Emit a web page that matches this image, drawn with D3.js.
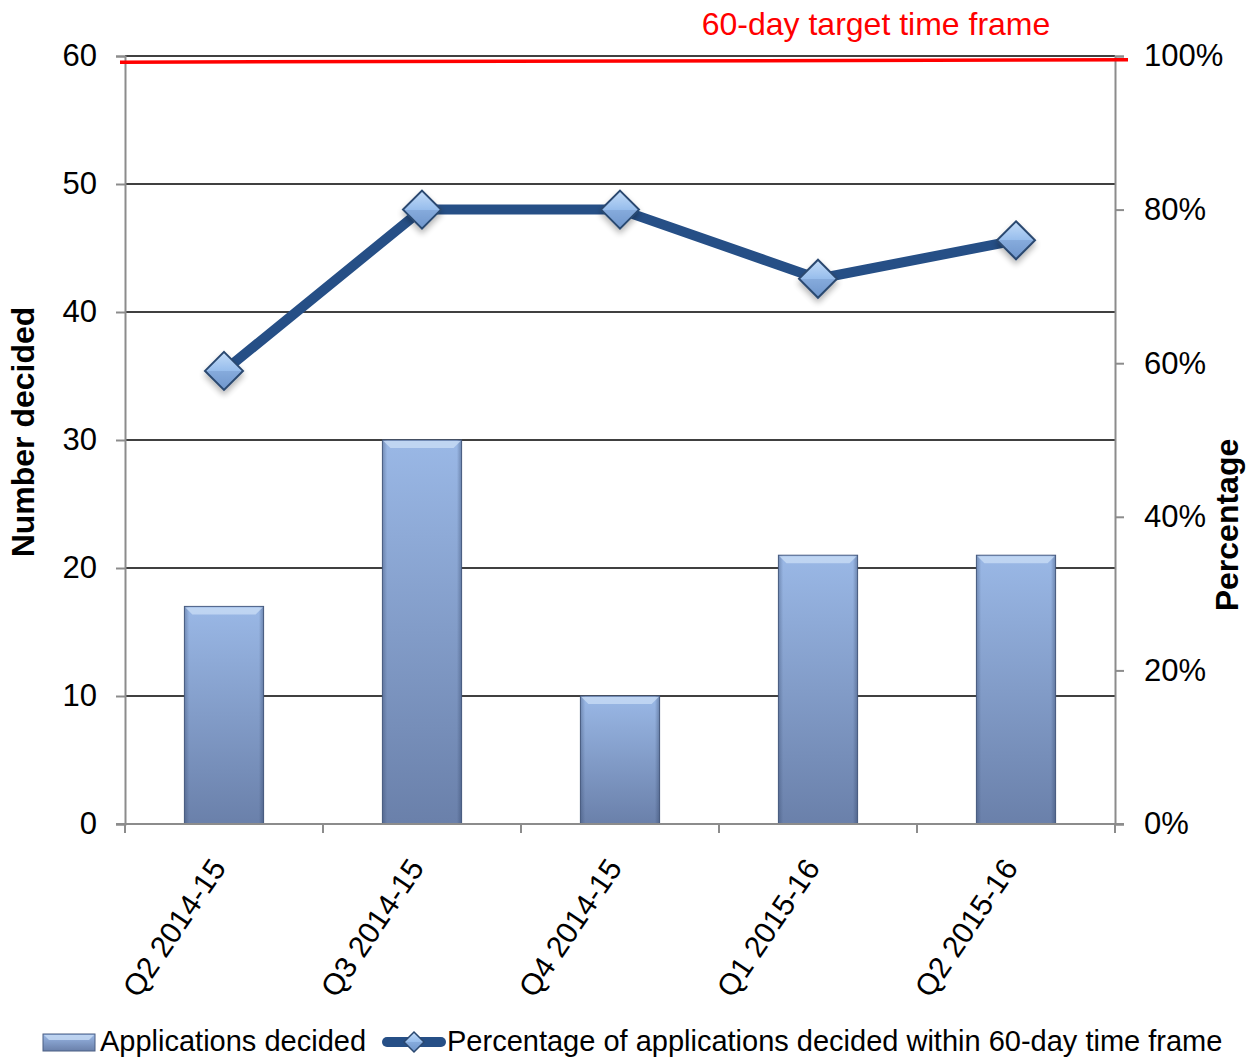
<!DOCTYPE html>
<html>
<head>
<meta charset="utf-8">
<script src="https://cdn.jsdelivr.net/npm/d3@7"></script>
<style>
  html, body { margin: 0; padding: 0; background: #fff; }
  svg { display: block; font-family: "Liberation Sans", Arial, sans-serif; }
</style>
</head>
<body>
<svg id="chart" width="1253" height="1059"></svg>
<script>
// Quarterly applications and share decided within the 60-day target
const categories = ["Q2 2014-15", "Q3 2014-15", "Q4 2014-15", "Q1 2015-16", "Q2 2015-16"];
const applicationsDecided = [17, 30, 10, 21, 21];
const percentWithin60Days = [59, 80, 80, 71, 76];
const leftTicks = [0, 10, 20, 30, 40, 50, 60];
const rightTicks = [0, 20, 40, 60, 80, 100];
const targetLinePercent = [99.2, 99.5];   // hand-drawn target marker, left end / right end
const targetLabel = "60-day target time frame";
const legendLabels = ["Applications decided", "Percentage of applications decided within 60-day time frame"];

const svg = d3.select("#chart");
const plot = { left: 125, right: 1115, top: 56, bottom: 824 };

const x = d3.scaleBand().domain(categories)
  .range([plot.left, plot.right]).paddingInner(0.6).paddingOuter(0.3);
const yL = d3.scaleLinear().domain([0, 60]).range([plot.bottom, plot.top]);
const yR = d3.scaleLinear().domain([0, 100]).range([plot.bottom, plot.top]);

// gradients
const defs = svg.append("defs");
const barGrad = defs.append("linearGradient").attr("id", "barGrad")
  .attr("x1", 0).attr("y1", 0).attr("x2", 0).attr("y2", 1);
barGrad.append("stop").attr("offset", "0%").attr("stop-color", "#9ab8e6");
barGrad.append("stop").attr("offset", "100%").attr("stop-color", "#6a80aa");
const barSide = defs.append("linearGradient").attr("id", "barSide")
  .attr("x1", 0).attr("y1", 0).attr("x2", 1).attr("y2", 0);
barSide.append("stop").attr("offset", "0%").attr("stop-color", "#2c3e60").attr("stop-opacity", 0.35);
barSide.append("stop").attr("offset", "6%").attr("stop-color", "#2c3e60").attr("stop-opacity", 0);
barSide.append("stop").attr("offset", "94%").attr("stop-color", "#2c3e60").attr("stop-opacity", 0);
barSide.append("stop").attr("offset", "100%").attr("stop-color", "#2c3e60").attr("stop-opacity", 0.4);
const diaGrad = defs.append("linearGradient").attr("id", "diaGrad")
  .attr("x1", 0).attr("y1", 0).attr("x2", 0).attr("y2", 1);
diaGrad.append("stop").attr("offset", "0%").attr("stop-color", "#c3dcf8");
diaGrad.append("stop").attr("offset", "50%").attr("stop-color", "#97bdec");
diaGrad.append("stop").attr("offset", "50%").attr("stop-color", "#86abdc");
diaGrad.append("stop").attr("offset", "100%").attr("stop-color", "#6f96cc");
const shadow = defs.append("filter").attr("id", "shadow")
  .attr("x", "-50%").attr("y", "-50%").attr("width", "200%").attr("height", "200%");
shadow.append("feGaussianBlur").attr("in", "SourceAlpha").attr("stdDeviation", 3);
shadow.append("feOffset").attr("dy", 4).attr("result", "b");
shadow.append("feComponentTransfer").append("feFuncA").attr("type", "linear").attr("slope", 0.3);
const merge = shadow.append("feMerge");
merge.append("feMergeNode");
merge.append("feMergeNode").attr("in", "SourceGraphic");

// gridlines
svg.append("g").selectAll("line").data(leftTicks.filter(d => d > 0)).join("line")
  .attr("x1", plot.left).attr("x2", plot.right)
  .attr("y1", d => yL(d)).attr("y2", d => yL(d))
  .attr("stroke", "#000").attr("stroke-width", 1.4);

// bars
const bw = x.bandwidth();
const bars = svg.append("g").selectAll("g").data(applicationsDecided).join("g");
bars.append("rect")
  .attr("x", (d, i) => x(categories[i])).attr("y", d => yL(d))
  .attr("width", bw).attr("height", d => yL(0) - yL(d))
  .attr("fill", "url(#barGrad)").attr("stroke", "#4b5f84").attr("stroke-width", 1);
bars.append("rect")
  .attr("x", (d, i) => x(categories[i])).attr("y", d => yL(d))
  .attr("width", bw).attr("height", d => yL(0) - yL(d))
  .attr("fill", "url(#barSide)");
// top bevel highlight
bars.append("path")
  .attr("d", (d, i) => {
    const x0 = x(categories[i]), y0 = yL(d);
    return `M${x0 + 1},${y0 + 1} L${x0 + bw - 1},${y0 + 1} L${x0 + bw - 8},${y0 + 8} L${x0 + 8},${y0 + 8} Z`;
  })
  .attr("fill", "#c8dcf5").attr("opacity", 0.8);

// axes
const axisColor = "#8c8c8c";
const gL = svg.append("g").attr("transform", `translate(${plot.left},0)`)
  .call(d3.axisLeft(yL).tickValues(leftTicks).tickSize(9).tickPadding(19).tickFormat(d3.format("d")));
const gR = svg.append("g").attr("transform", `translate(${plot.right},0)`)
  .call(d3.axisRight(yR).tickValues(rightTicks).tickSize(9).tickPadding(20).tickFormat(d => d + "%"));
const gB = svg.append("g").attr("transform", `translate(0,${plot.bottom})`)
  .call(d3.axisBottom(x).tickSize(0).tickFormat(""));
[gL, gR, gB].forEach(g => {
  g.select(".domain").attr("stroke", axisColor).attr("stroke-width", 2);
  g.selectAll(".tick line").attr("stroke", axisColor).attr("stroke-width", 2);
  g.selectAll("text").attr("fill", "#000").attr("font-size", 31)
    .attr("font-family", "'Liberation Sans', Arial, sans-serif");
});
gB.select(".domain").attr("d", `M${plot.left - 9},0H${plot.right + 9}`);
// category boundary ticks
const bounds = d3.range(categories.length + 1).map(i => plot.left + i * x.step());
svg.append("g").selectAll("line").data(bounds).join("line")
  .attr("x1", d => d).attr("x2", d => d)
  .attr("y1", plot.bottom).attr("y2", plot.bottom + 9)
  .attr("stroke", axisColor).attr("stroke-width", 2);

// rotated category labels
svg.append("g").selectAll("text").data(categories).join("text")
  .attr("transform", d => `translate(${x(d) + bw / 2 + 3},${plot.bottom + 44}) rotate(-56)`)
  .attr("text-anchor", "end")
  .attr("font-size", 30).text(d => d);

// percentage line
const cx = i => x(categories[i]) + bw / 2;
const line = d3.line().x((d, i) => cx(i)).y(d => yR(d));
svg.append("path").datum(percentWithin60Days)
  .attr("d", line).attr("fill", "none")
  .attr("stroke", "#264f86").attr("stroke-width", 10).attr("stroke-linejoin", "round");
const r = 19;
const diamond = (px, py, s) => `M${px},${py - s} L${px + s},${py} L${px},${py + s} L${px - s},${py} Z`;
svg.append("g").selectAll("path").data(percentWithin60Days).join("path")
  .attr("d", (d, i) => diamond(cx(i), yR(d), r))
  .attr("fill", "url(#diaGrad)").attr("stroke", "#2a4870").attr("stroke-width", 2)
  .attr("filter", "url(#shadow)");

// target line and label
svg.append("line")
  .attr("x1", plot.left - 5).attr("x2", plot.right + 13)
  .attr("y1", yR(targetLinePercent[0])).attr("y2", yR(targetLinePercent[1]))
  .attr("stroke", "#ff0000").attr("stroke-width", 3.5);
svg.append("text").attr("x", 876).attr("y", 35).attr("text-anchor", "middle")
  .attr("fill", "#ff0000").attr("font-size", 32).text(targetLabel);

// axis titles
svg.append("text").attr("transform", "translate(34,432) rotate(-90)")
  .attr("text-anchor", "middle").attr("font-weight", "bold").attr("font-size", 32)
  .text("Number decided");
svg.append("text").attr("transform", "translate(1238,525) rotate(-90)")
  .attr("text-anchor", "middle").attr("font-weight", "bold").attr("font-size", 32)
  .text("Percentage");

// legend
const lg = svg.append("g");
lg.append("rect").attr("x", 43).attr("y", 1034).attr("width", 52).attr("height", 17)
  .attr("fill", "url(#barGrad)").attr("stroke", "#4b5f84").attr("stroke-width", 1);
lg.append("path").attr("d", "M44,1035 L94,1035 L89,1040 L49,1040 Z").attr("fill", "#c8dcf5").attr("opacity", 0.8);
lg.append("text").attr("x", 100).attr("y", 1051).attr("font-size", 29).text(legendLabels[0]);
lg.append("line").attr("x1", 387).attr("x2", 441).attr("y1", 1042).attr("y2", 1042)
  .attr("stroke", "#264f86").attr("stroke-width", 10).attr("stroke-linecap", "round");
lg.append("path").attr("d", diamond(414, 1042, 10))
  .attr("fill", "url(#diaGrad)").attr("stroke", "#2a4870").attr("stroke-width", 1.5);
lg.append("text").attr("x", 447).attr("y", 1051).attr("font-size", 29).text(legendLabels[1]);
</script>
</body>
</html>
